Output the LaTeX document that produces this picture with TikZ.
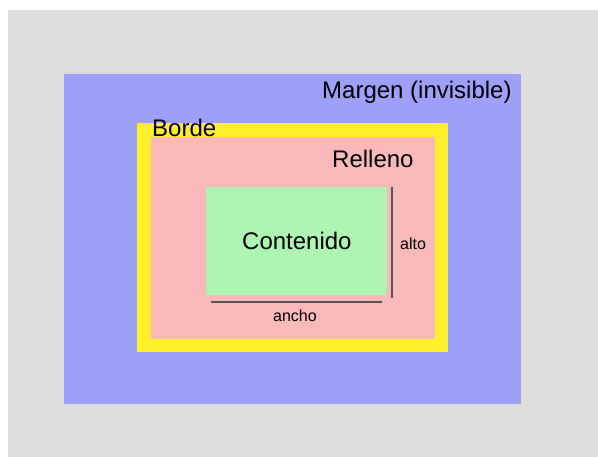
\documentclass[tikz,border=0pt]{standalone}
\usepackage{fontspec}
\setmainfont{Liberation Sans}
\definecolor{bggray}{HTML}{DDDDDD}
\definecolor{margincol}{HTML}{9DA0F8}
\definecolor{bordercol}{HTML}{FFEF2A}
\definecolor{paddingcol}{HTML}{FAB9B9}
\definecolor{contentcol}{HTML}{ADF5B1}
\definecolor{dimcol}{HTML}{555555}
\tikzset{
  bigtxt/.style={inner sep=0pt, anchor=base west, font=\fontsize{24}{28}\selectfont},
  smalltxt/.style={inner sep=0pt, anchor=base west, font=\fontsize{16}{19}\selectfont},
  dimline/.style={draw=dimcol, line width=1.2pt},
}
\begin{document}
\begin{tikzpicture}[x=1pt,y=-1pt]
\useasboundingbox (0,0) rectangle (598,457);
\fill[white] (0,0) rectangle (598,457);
\fill[bggray] (8,10) rectangle (598,457);
\fill[margincol] (64,74) rectangle (521,404);
\fill[bordercol] (137,123) rectangle (448,352);
\fill[paddingcol] (151,137) rectangle (435,339);
\fill[contentcol] (206,187) rectangle (387,295);
\node[bigtxt] (margen) at (322,99) {Margen (invisible)};
\node[bigtxt] (borde) at (152,137) {Borde};
\node[bigtxt] (relleno) at (332,168) {Relleno};
\node[bigtxt] (contenido) at (242,250) {Contenido};
\node[smalltxt] (alto) at (400,250) {alto};
\node[smalltxt] (ancho) at (273,322) {ancho};
\coordinate (vtop) at (392,187);
\coordinate (vbot) at (392,298);
\coordinate (hleft) at (211,302);
\coordinate (hright) at (382,302);
\draw[dimline] (vtop) -- (vbot);
\draw[dimline] (hleft) -- (hright);
\end{tikzpicture}
\end{document}
